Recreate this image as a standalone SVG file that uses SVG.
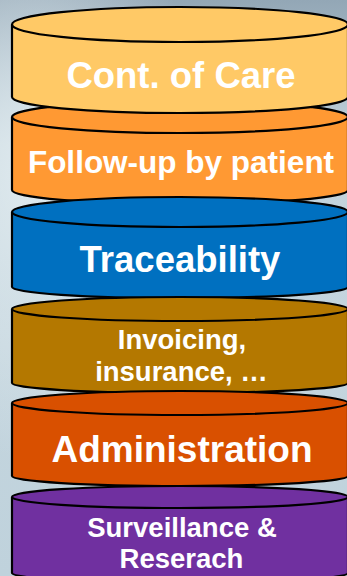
<svg xmlns="http://www.w3.org/2000/svg" width="347" height="576" viewBox="0 0 347 576">
  <defs>
    <linearGradient id="bg" x1="0" y1="0" x2="0" y2="1">
      <stop offset="0" stop-color="#93A7B6"/>
      <stop offset="0.25" stop-color="#C2D3DC"/>
      <stop offset="0.6" stop-color="#C4D5DE"/>
      <stop offset="1" stop-color="#BFD2DC"/>
    </linearGradient>
    <radialGradient id="glow" cx="0.1" cy="0.3" r="0.5">
      <stop offset="0" stop-color="#E2ECF0" stop-opacity="0.9"/>
      <stop offset="1" stop-color="#E2ECF0" stop-opacity="0"/>
    </radialGradient>
    <style>
      .body { stroke: #000; stroke-width: 2.2; stroke-linejoin: round; }
      .rim { fill: none; stroke: #000; stroke-width: 2.2; }
      .lbl { fill: #fff; font-family: "Liberation Sans", Arial, sans-serif; font-weight: bold; text-anchor: middle; }
    </style>
  </defs>
  <rect width="347" height="576" fill="url(#bg)"/>
  <rect width="347" height="576" fill="url(#glow)"/>

  <g id="follow-up">
    <path class="body" fill="#FF9933" d="M12,117 V190 A168,14 0 0 0 348,190 V117 A168,16 0 0 0 12,117 Z"/>
    <path class="rim" d="M12,117 A168,16 0 0 0 348,117"/>
    <text class="lbl" x="181" y="173" font-size="31.5">Follow-up by patient</text>
  </g>

  <g id="cont-of-care">
    <path class="body" fill="#FFC966" d="M12,24.5 V97 A168,16 0 0 0 348,97 V24.5 A168,17.5 0 0 0 12,24.5 Z"/>
    <path class="rim" d="M12,24.5 A168,17.5 0 0 0 348,24.5"/>
    <text class="lbl" x="181" y="88" font-size="36.5">Cont. of Care</text>
  </g>

  <g id="traceability">
    <path class="body" fill="#0070C0" d="M12,212 V287 A168,11 0 0 0 348,287 V212 A168,15 0 0 0 12,212 Z"/>
    <path class="rim" d="M12,212 A168,15 0 0 0 348,212"/>
    <text class="lbl" x="180" y="272" font-size="36.5">Traceability</text>
  </g>

  <g id="invoicing">
    <path class="body" fill="#B47800" d="M12,309 V383 A168,10 0 0 0 348,383 V309 A168,12 0 0 0 12,309 Z"/>
    <path class="rim" d="M12,309 A168,12 0 0 0 348,309"/>
    <text class="lbl" x="182" y="349" font-size="27.5">Invoicing,</text>
    <text class="lbl" x="181.5" y="381" font-size="27.5">insurance, …</text>
  </g>

  <g id="administration">
    <path class="body" fill="#D95000" d="M12,403 V476 A168,10 0 0 0 348,476 V403 A168,12 0 0 0 12,403 Z"/>
    <path class="rim" d="M12,403 A168,12 0 0 0 348,403"/>
    <text class="lbl" x="182" y="462" font-size="37">Administration</text>
  </g>

  <g id="surveillance">
    <path class="body" fill="#7030A0" d="M12,497 V573 A168,10 0 0 0 348,573 V497 A168,11 0 0 0 12,497 Z"/>
    <path class="rim" d="M12,497 A168,11 0 0 0 348,497"/>
    <text class="lbl" x="182" y="537" font-size="27.5">Surveillance &amp;</text>
    <text class="lbl" x="181.5" y="568" font-size="27.5">Reserach</text>
  </g>

  <g id="connectors"/>
</svg>
